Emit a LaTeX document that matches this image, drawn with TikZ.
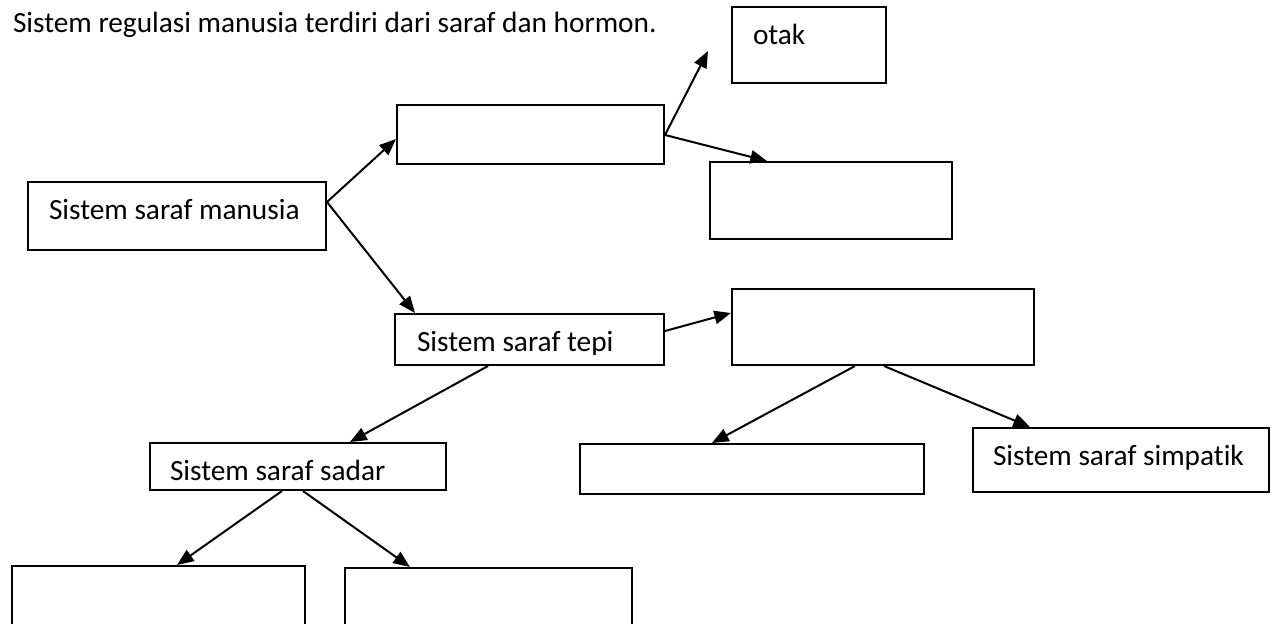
\documentclass[tikz,border=0pt]{standalone}
\usepackage{fontspec}
\setmainfont{Carlito}[Ligatures=NoCommon]
\usetikzlibrary{arrows.meta}

\tikzset{
	kotak/.style={draw, rectangle, inner sep=0pt, anchor=north west},
	teks/.style={anchor=base west, inner sep=0pt, font=\fontsize{22}{26}\selectfont},
}

\begin{document}
\begin{tikzpicture}[x=0.75pt, y=-0.75pt, arrows={-Triangle[length=12.5pt,width=10pt]}, line width=1.5pt]
	\clip (0,0) rectangle (1272,624);
	\node [teks] (judul) at (12,33) {Sistem regulasi manusia terdiri dari saraf dan hormon.};

	\node [kotak, minimum width=115.5pt, minimum height=57pt] (otak) at (731,6) {};
	\node [kotak, minimum width=200.25pt, minimum height=44.25pt] (pusat) at (396,104) {};
	\node [kotak, minimum width=181.5pt, minimum height=57.75pt] (sumsum) at (709,161) {};
	\node [kotak, minimum width=223.5pt, minimum height=51pt] (manusia) at (27,181) {};
	\node [kotak, minimum width=201.75pt, minimum height=38.25pt] (tepi) at (394,313) {};
	\node [kotak, minimum width=226.5pt, minimum height=57pt] (otonom) at (731,288) {};
	\node [kotak, minimum width=222pt, minimum height=35.25pt] (sadar) at (149,442) {};
	\node [kotak, minimum width=258pt, minimum height=37.5pt] (parasimpatik) at (579,443) {};
	\node [kotak, minimum width=222pt, minimum height=48pt] (simpatik) at (972,427) {};
	\node [kotak, minimum width=219.75pt, minimum height=63.75pt] (kranial) at (11,565) {};
	\node [kotak, minimum width=215.25pt, minimum height=62.25pt] (spinal) at (344,567) {};

	\node [teks] (totak) at (752,45) {otak};
	\node [teks] (tmanusia) at (48,220) {Sistem saraf manusia};
	\begin{scope}
		\clip (tepi.north west) rectangle ([shift={(0,-12)}]tepi.south east);
		\node [teks] (ttepi) at (416,351) {Sistem saraf tepi};
	\end{scope}
	\node [teks] (tsadar) at (169,480) {Sistem saraf sadar};
	\node [teks] (tsimpatik) at (992,465) {Sistem saraf simpatik};

	\draw ([shift={(0,21)}]manusia.north east) -- ([shift={(0,-26)}]pusat.south west);
	\draw ([shift={(0,21)}]manusia.north east) -- ([shift={(21,0)}]tepi.north west);
	\draw ([shift={(0,31)}]pusat.north east) -- ([shift={(-23,6)}]otak.west);
	\draw ([shift={(0,31)}]pusat.north east) -- ([shift={(58,0)}]sumsum.north west);
	\draw ([shift={(0,18)}]tepi.north east) -- ([shift={(0,25)}]otonom.north west);
	\draw ([shift={(124,0)}]otonom.south west) -- ([shift={(133,0)}]parasimpatik.north west);
	\draw ([shift={(153,0)}]otonom.south west) -- ([shift={(58,0)}]simpatik.north west);
	\draw ([shift={(94,0)}]tepi.south west) -- ([shift={(201,0)}]sadar.north west);
	\draw ([shift={(133,0)}]sadar.south west) -- ([shift={(166,0)}]kranial.north west);
	\draw ([shift={(154,0)}]sadar.south west) -- ([shift={(66,0)}]spinal.north west);
\end{tikzpicture}
\end{document}
